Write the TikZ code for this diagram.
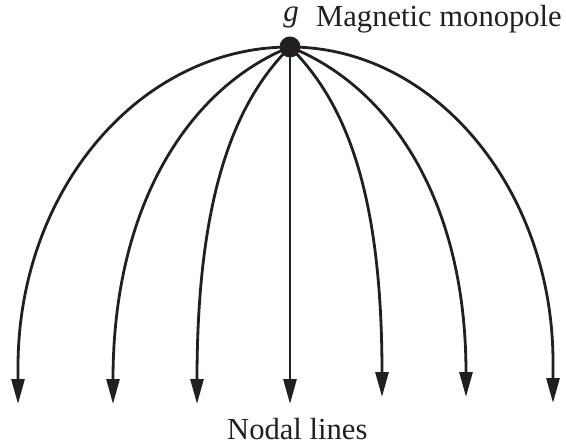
\documentclass[tikz,border=0pt]{standalone}
\usepackage{fontspec}
\setmainfont{Liberation Serif}
\usetikzlibrary{arrows.meta}
\begin{document}
\begin{tikzpicture}[x=1pt,y=-1pt,
  fline/.style={line width=2.8pt, draw={rgb,255:red,35;green,31;blue,32},
    -{Triangle[length=25pt,width=13pt]}},
  lbl/.style={inner sep=0pt, text={rgb,255:red,35;green,31;blue,32}}]
\useasboundingbox (0,0) rectangle (566,444);
\coordinate (m) at (290,47);
% end points (arrow tips)
\coordinate (e1) at (18,404);
\coordinate (e2) at (113,404);
\coordinate (e3) at (197,404);
\coordinate (e4) at (290,404);
\coordinate (e5) at (382,397);
\coordinate (e6) at (466,397);
\coordinate (e7) at (553,403);
% field lines
\draw[fline] (m) .. controls (139.8,47) and (18,190.3) .. (18,367) -- (e1);
\draw[fline] (m) .. controls (190,87) and (113,204) .. (e2);
\draw[fline] (m) .. controls (240,97) and (197,184) .. (e3);
\draw[fline] (m) -- (e4);
\draw[fline] (m) .. controls (340,97) and (382,180) .. (e5);
\draw[fline] (m) .. controls (390,87) and (466,200) .. (e6);
\draw[fline] (m) .. controls (435,47) and (553,190) .. (553,362) -- (e7);
% monopole
\node[circle, fill={rgb,255:red,35;green,31;blue,32}, minimum size=21pt, inner sep=0pt] (mono) at (m) {};
% labels
\node[lbl, anchor=base, text height=14pt, text depth=6pt] (g) at (291,22) {\fontsize{31}{36}\selectfont\itshape g};
\node[lbl, anchor=base west, text height=20pt, text depth=0pt] (mm) at (316,27) {\fontsize{30.6}{36}\selectfont Magnetic monopole};
\node[lbl, anchor=base west, text height=21pt, text depth=0pt] (nl) at (227,439) {\fontsize{30.6}{36}\selectfont Nodal lines};
\end{tikzpicture}
\end{document}
